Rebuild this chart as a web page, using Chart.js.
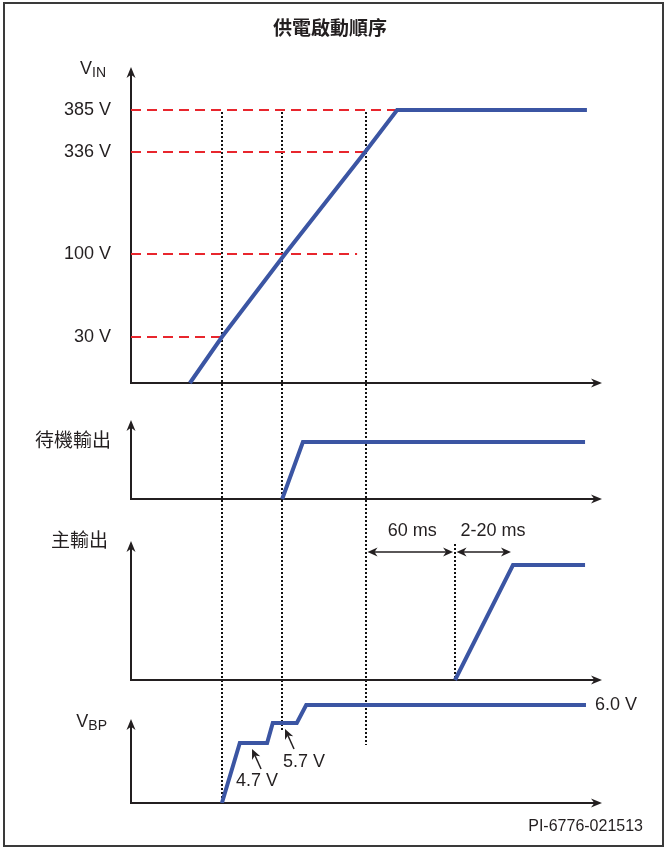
<!DOCTYPE html>
<html>
<head>
<meta charset="utf-8">
<script src="https://cdn.jsdelivr.net/npm/chart.js@4.4.1/dist/chart.umd.min.js"></script>
<style>
  html, body { margin: 0; padding: 0; background: #fff; }
  canvas { display: block; }
</style>
</head>
<body>
<canvas id="seq" width="667" height="848"></canvas>
<script>
// Power-up sequence timing diagram (schematic, not to scale)

const title = '供電啟動順序'
const footnote = 'PI-6776-021513'

// time axis in arbitrary units (0..100)
const vinT = [12.5, 19.3, 32.7, 49.7, 56.5, 96.8]
const vinV = [0, 30, 100, 336, 385, 385]
const vinTicks = [30, 100, 336, 385]
const vinTickLabels = ['30 V', '100 V', '336 V', '385 V']
const vinDashEnd = [19.3, 48.0, 49.7, 56.5]

const stbT = [32.1, 36.5, 96.4]
const stbV = [0, 1, 1]

const mainT = [68.8, 81.1, 96.4]
const mainV = [0, 1, 1]

const vbpT = [19.3, 23.1, 28.9, 30.1, 35.2, 37.2, 96.6]
const vbpV = [0, 4.7, 4.7, 5.7, 5.7, 6.0, 6.0]
const vbpEndLabel = '6.0 V'

// dotted event markers
const markT = [19.3, 32.1, 49.9, 68.8]

// delays between events
const durFrom = [49.9, 68.8]
const durTo = [68.8, 81.1]
const durLabels = ['60 ms', '2-20 ms']

// callouts on the VBP steps
const noteT = [25.7, 32.7]
const noteV = [4.7, 5.7]
const noteLabels = ['4.7 V', '5.7 V']

// ---- layout (pixels) ----
const area = { left: 131, top: 60, right: 602, bottom: 803 }
const BLUE = '#3b55a3', RED = '#e8262d', INK = '#231f20'
const FONT = '"Liberation Sans", "Noto Sans CJK TC", sans-serif'

// each panel: baseline, arrow tip, and how high each level is drawn above the baseline
const panels = {
    yVin: { base: 383, top: 67, levels: [0, ...vinTicks], rise: [0, 46, 129, 231, 273], label: ['V', 'IN'], labelRight: 106, labelY: 69 },
    yStb: { base: 499, top: 420, levels: [0, 1], rise: [0, 57], label: ['待機輸出'], labelRight: 111, labelY: 442 },
    yMain: { base: 680, top: 541, levels: [0, 1], rise: [0, 115], label: ['主輸出'], labelRight: 108, labelY: 542 },
    yVbp: { base: 803, top: 719, levels: [0, 4.7, 5.7, 6.0], rise: [0, 60, 80, 98], label: ['V', 'BP'], labelRight: 107, labelY: 722 },
}

// how far each dotted marker reaches
const markerSpan = [
    [['yVin', 385], ['yVbp', 0]],
    [['yVin', 385], ['yVbp', 5.35]],
    [['yVin', 385], ['yVbp', 4.55]],
    [['yMain', 1.2], ['yMain', 0]],
]

// a linear scale whose levels are placed at schematic heights
class SchematicScale extends Chart.LinearScale {
    static id = 'schematic'
    static defaults = Chart.LinearScale.defaults
    riseOf(v) {
        const p = panels[this.id], L = p.levels, R = p.rise
        let i = 1
        while (i < L.length - 1 && v > L[i]) i++
        return R[i - 1] + (v - L[i - 1]) * (R[i] - R[i - 1]) / (L[i] - L[i - 1])
    }
    getPixelForValue(v) {
        return v === null || v === undefined ? NaN : super.getPixelForValue(this.riseOf(v))
    }
    pixelForRise(h) { return super.getPixelForValue(h) }
}
Chart.register(SchematicScale)

const pts = (ts, vs) => ts.map((t, i) => ({ x: t, y: vs[i] }))
const trace = (data, yAxisID) => ({
    data, yAxisID, borderColor: BLUE, borderWidth: 4, pointRadius: 0, tension: 0,
    borderJoinStyle: 'miter', borderCapStyle: 'butt', fill: false
})

const datasets = [
    trace(pts(vinT, vinV), 'yVin'),
    trace(pts(stbT, stbV), 'yStb'),
    trace(pts(mainT, mainV), 'yMain'),
    trace(pts(vbpT, vbpV), 'yVbp'),
    ...vinTicks.map((v, i) => ({
        data: [{ x: 0, y: v }, { x: vinDashEnd[i], y: v }], yAxisID: 'yVin',
        borderColor: RED, borderWidth: 2, borderDash: [10, 6], pointRadius: 0, fill: false
    }))
]

const scales = { x: { type: 'linear', display: false, min: 0, max: 100 } }
Object.keys(panels).forEach(id => {
    const p = panels[id]
    scales[id] = { type: 'schematic', display: false, bounds: 'data', min: -(area.bottom - p.base), max: p.base - area.top }
})

function arrowHead(ctx, x, y, angle, len = 10, half = 4) {
    ctx.save()
    ctx.translate(x, y)
    ctx.rotate(angle)
    ctx.beginPath()
    ctx.moveTo(0, 0)
    ctx.lineTo(-len, -half)
    ctx.lineTo(-len * 0.7, 0)
    ctx.lineTo(-len, half)
    ctx.closePath()
    ctx.fill()
    ctx.restore()
}

function text(ctx, s, x, y, align = 'left', size = 18, weight = 'normal') {
    ctx.font = `${weight} ${size}px ${FONT}`
    ctx.textAlign = align
    ctx.textBaseline = 'middle'
    ctx.fillText(s, x, y)
}

const diagram = {
    id: 'diagram',
    beforeDatasetsDraw(chart) {
        const { ctx, scales: s } = chart
        ctx.save()
        // frame
        ctx.strokeStyle = '#3a3a3a'
        ctx.lineWidth = 2
        ctx.strokeRect(4, 3, 659, 843)

        // dotted markers
        ctx.strokeStyle = '#111'
        ctx.lineWidth = 2
        ctx.setLineDash([2, 2])
        markT.forEach((t, i) => {
            const [a, b] = markerSpan[i]
            const px = Math.round(s.x.getPixelForValue(t))
            ctx.beginPath()
            ctx.moveTo(px, s[a[0]].getPixelForValue(a[1]) + 2)
            ctx.lineTo(px, s[b[0]].getPixelForValue(b[1]))
            ctx.stroke()
        })
        ctx.setLineDash([])

        // axes with arrows
        ctx.strokeStyle = INK
        ctx.lineWidth = 2
        ctx.fillStyle = INK
        const left = s.x.getPixelForValue(0), right = s.x.getPixelForValue(100)
        Object.keys(panels).forEach(id => {
            const p = panels[id], sc = s[id]
            const base = sc.pixelForRise(0), top = sc.pixelForRise(p.base - p.top)
            ctx.beginPath()
            ctx.moveTo(left, top + 7)
            ctx.lineTo(left, base)
            ctx.lineTo(right - 7, base)
            ctx.stroke()
            arrowHead(ctx, left, top, -Math.PI / 2, 11, 4.5)
            arrowHead(ctx, right, base, 0, 11, 4.5)
        })
        ctx.restore()
    },
    afterDatasetsDraw(chart) {
        const { ctx, scales: s } = chart
        const left = s.x.getPixelForValue(0)
        ctx.save()
        ctx.fillStyle = INK
        ctx.strokeStyle = INK

        text(ctx, title, 330, 30, 'center', 19, 'bold')
        text(ctx, footnote, 643, 827, 'right', 16)

        // level labels on the VIN axis
        vinTicks.forEach((v, i) => text(ctx, vinTickLabels[i], left - 20, s.yVin.getPixelForValue(v), 'right'))

        // panel names
        Object.keys(panels).forEach(id => {
            const p = panels[id]
            if (p.label.length === 1) {
                text(ctx, p.label[0], p.labelRight, p.labelY, 'right', 19)
            } else {
                ctx.font = `18px ${FONT}`
                const w1 = ctx.measureText(p.label[0]).width
                ctx.font = `14px ${FONT}`
                const w2 = ctx.measureText(p.label[1]).width
                text(ctx, p.label[0], p.labelRight - w1 - w2, p.labelY, 'left', 18)
                text(ctx, p.label[1], p.labelRight - w2, p.labelY + 4, 'left', 14)
            }
        })

        // end value of VBP
        const lastT = vbpT[vbpT.length - 1], lastV = vbpV[vbpV.length - 1]
        text(ctx, vbpEndLabel, s.x.getPixelForValue(lastT) + 9, s.yVbp.getPixelForValue(lastV), 'left')

        // duration arrows
        ctx.lineWidth = 1.5
        const ay = s.yMain.pixelForRise(128)
        durFrom.forEach((t0, i) => {
            const x0 = s.x.getPixelForValue(t0) + 1.5, x1 = s.x.getPixelForValue(durTo[i]) - 2
            ctx.beginPath()
            ctx.moveTo(x0 + 5, ay)
            ctx.lineTo(x1 - 5, ay)
            ctx.stroke()
            arrowHead(ctx, x0, ay, Math.PI, 10, 4.5)
            arrowHead(ctx, x1, ay, 0, 10, 4.5)
            if (i === 0) text(ctx, durLabels[i], (x0 + x1) / 2 + 2, ay - 21, 'center')
            else text(ctx, durLabels[i], x0 + 4, ay - 21, 'left')
        })

        // callouts
        const noteTextDx = [-16, -2], noteTextDy = [32, 33]
        noteT.forEach((t, i) => {
            const tx = s.x.getPixelForValue(t), ty = s.yVbp.getPixelForValue(noteV[i]) + 6
            const ang = Math.atan2(-20, -9)
            ctx.beginPath()
            ctx.moveTo(tx + 9, ty + 20)
            ctx.lineTo(tx + 9 * 0.3, ty + 20 * 0.3)
            ctx.stroke()
            arrowHead(ctx, tx, ty, ang, 10, 4.5)
            text(ctx, noteLabels[i], tx + noteTextDx[i], ty + noteTextDy[i], 'left')
        })
        ctx.restore()
    }
}

new Chart(document.getElementById('seq'), {
    type: 'line',
    data: { datasets },
    options: {
        responsive: false,
        animation: false,
        layout: { padding: { left: area.left, top: area.top, right: 667 - area.right, bottom: 848 - area.bottom } },
        scales,
        plugins: { legend: { display: false }, tooltip: { enabled: false } }
    },
    plugins: [diagram]
})
</script>
</body>
</html>
